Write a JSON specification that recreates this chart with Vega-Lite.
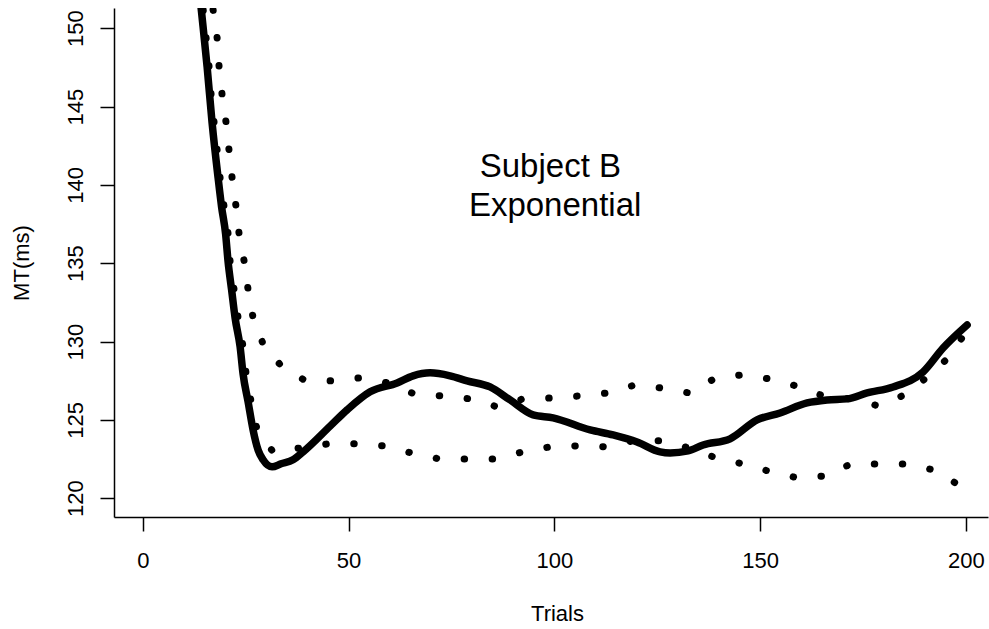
{
  "$schema": "https://vega.github.io/schema/vega-lite/v6.json",
  "width": 874,
  "height": 509,
  "autosize": {"type": "none"},
  "padding": {"left": 114, "top": 8, "right": 1, "bottom": 112},
  "background": "white",
  "config": {
    "view": {"stroke": null},
    "font": "Liberation Sans",
    "axis": {
      "grid": false,
      "domainColor": "black",
      "domainWidth": 1.5,
      "tickColor": "black",
      "tickWidth": 1.5,
      "tickSize": 14,
      "labelFontSize": 22,
      "labelColor": "black",
      "labelFlush": false,
      "labelOverlap": false,
      "titleFontSize": 22,
      "titleFontWeight": "normal",
      "titleColor": "black"
    }
  },
  "datasets": {
    "fit": [
      {"x": 12, "y": 156.9}, {"x": 14.17, "y": 151.3}, {"x": 15.63, "y": 147.53}, {"x": 16.84, "y": 143.96},
      {"x": 18.3, "y": 140.45}, {"x": 19.15, "y": 138.59}, {"x": 20.12, "y": 136.87}, {"x": 20.73, "y": 135.08},
      {"x": 21.58, "y": 133.3}, {"x": 22.43, "y": 131.51}, {"x": 23.65, "y": 129.66}, {"x": 24.37, "y": 127.93},
      {"x": 25.59, "y": 126.15}, {"x": 26.8, "y": 124.36}, {"x": 28.02, "y": 123.08}, {"x": 29.23, "y": 122.45},
      {"x": 31.42, "y": 122.0}, {"x": 33.6, "y": 122.2}, {"x": 36.5, "y": 122.45}, {"x": 38.96, "y": 122.96},
      {"x": 45.52, "y": 124.6}, {"x": 49.65, "y": 125.64}, {"x": 55.24, "y": 126.79}, {"x": 61.8, "y": 127.36},
      {"x": 65.69, "y": 127.81}, {"x": 69.82, "y": 128.0}, {"x": 74.68, "y": 127.81}, {"x": 78.81, "y": 127.49},
      {"x": 84.4, "y": 127.1}, {"x": 89.26, "y": 126.27}, {"x": 94.85, "y": 125.32}, {"x": 99.71, "y": 125.13},
      {"x": 108.7, "y": 124.36}, {"x": 114.29, "y": 124.04}, {"x": 120.12, "y": 123.59}, {"x": 125.71, "y": 122.96},
      {"x": 128.14, "y": 122.89}, {"x": 132.51, "y": 123.02}, {"x": 136.16, "y": 123.4}, {"x": 142.72, "y": 123.79},
      {"x": 149.28, "y": 125.0}, {"x": 154.87, "y": 125.44}, {"x": 161.43, "y": 126.08}, {"x": 166.29, "y": 126.27},
      {"x": 171.15, "y": 126.34}, {"x": 176.01, "y": 126.72}, {"x": 182.33, "y": 127.1}, {"x": 189.62, "y": 128.06},
      {"x": 194.48, "y": 129.59}, {"x": 200.32, "y": 131.06}
    ],
    "upper": [
      {"x": 16.11, "y": 152.94}, {"x": 17.08, "y": 151.17}, {"x": 18.06, "y": 149.38}, {"x": 18.54, "y": 147.53},
      {"x": 19.27, "y": 145.74}, {"x": 20.24, "y": 143.96}, {"x": 20.97, "y": 142.17}, {"x": 21.7, "y": 140.45},
      {"x": 22.67, "y": 138.59}, {"x": 23.4, "y": 136.87}, {"x": 24.62, "y": 135.14}, {"x": 25.59, "y": 133.3},
      {"x": 26.8, "y": 131.51}, {"x": 29.23, "y": 129.85}, {"x": 33.61, "y": 128.45}, {"x": 39.2, "y": 127.55},
      {"x": 45.9, "y": 127.49}, {"x": 52.8, "y": 127.68}, {"x": 59.61, "y": 127.36}, {"x": 65.93, "y": 126.66},
      {"x": 72.73, "y": 126.53}, {"x": 79.54, "y": 126.34}, {"x": 86.1, "y": 125.83}, {"x": 92.42, "y": 126.34},
      {"x": 99.47, "y": 126.4}, {"x": 106.27, "y": 126.53}, {"x": 113.08, "y": 126.72}, {"x": 119.64, "y": 127.23},
      {"x": 125.95, "y": 127.04}, {"x": 132.76, "y": 126.72}, {"x": 138.83, "y": 127.62}, {"x": 145.39, "y": 127.87},
      {"x": 152.2, "y": 127.62}, {"x": 158.76, "y": 127.17}, {"x": 165.32, "y": 126.53}, {"x": 171.88, "y": 126.34},
      {"x": 178.69, "y": 125.9}, {"x": 184.52, "y": 126.53}, {"x": 190.11, "y": 127.62}, {"x": 195.21, "y": 128.83},
      {"x": 199.1, "y": 130.24}
    ],
    "lower": [
      {"x": 13.97, "y": 152.94}, {"x": 15.38, "y": 149.38}, {"x": 16.11, "y": 147.53}, {"x": 16.6, "y": 145.74},
      {"x": 17.33, "y": 143.96}, {"x": 18.06, "y": 142.23}, {"x": 18.78, "y": 140.45}, {"x": 19.76, "y": 138.59},
      {"x": 20.73, "y": 136.87}, {"x": 21.22, "y": 135.08}, {"x": 22.19, "y": 133.3}, {"x": 23.16, "y": 131.51},
      {"x": 24.37, "y": 129.66}, {"x": 25.1, "y": 127.93}, {"x": 26.32, "y": 126.15}, {"x": 27.78, "y": 124.36},
      {"x": 31.66, "y": 122.96}, {"x": 38.47, "y": 123.21}, {"x": 45.03, "y": 123.47}, {"x": 51.83, "y": 123.47},
      {"x": 58.64, "y": 123.34}, {"x": 65.2, "y": 122.89}, {"x": 72.0, "y": 122.51}, {"x": 78.81, "y": 122.51},
      {"x": 85.61, "y": 122.51}, {"x": 92.42, "y": 122.96}, {"x": 98.98, "y": 123.28}, {"x": 105.78, "y": 123.34},
      {"x": 112.59, "y": 123.28}, {"x": 119.15, "y": 123.66}, {"x": 125.95, "y": 123.66}, {"x": 132.76, "y": 123.21},
      {"x": 139.32, "y": 122.57}, {"x": 145.88, "y": 122.19}, {"x": 152.68, "y": 121.68}, {"x": 159.0, "y": 121.3},
      {"x": 165.81, "y": 121.42}, {"x": 172.13, "y": 122.19}, {"x": 178.93, "y": 122.19}, {"x": 185.74, "y": 122.19},
      {"x": 192.05, "y": 121.81}, {"x": 197.88, "y": 120.91}
    ],
    "notes": [
      {"label": "Subject B", "x": 99.05, "y": 140.53},
      {"label": "Exponential", "x": 100.2, "y": 138.02}
    ]
  },
  "encoding": {
    "x": {
      "field": "x",
      "type": "quantitative",
      "scale": {"domain": [-7, 205.4], "nice": false, "zero": false},
      "axis": {
        "title": "Trials",
        "values": [0, 50, 100, 150, 200],
        "format": "d",
        "labelPadding": 36,
        "labelBaseline": "alphabetic",
        "titleX": 443,
        "titleY": 103,
        "titleBaseline": "alphabetic",
        "titleAlign": "center"
      }
    },
    "y": {
      "field": "y",
      "type": "quantitative",
      "scale": {"domain": [118.8, 151.29], "nice": false, "zero": false},
      "axis": {
        "title": "MT(ms)",
        "values": [120, 125, 130, 135, 140, 145, 150],
        "format": "d",
        "labelAngle": 270,
        "labelAlign": "center",
        "labelBaseline": "alphabetic",
        "labelPadding": 18,
        "titleAngle": 270,
        "titleX": -86,
        "titleY": 254.5,
        "titleAlign": "center",
        "titleBaseline": "alphabetic"
      }
    }
  },
  "layer": [
    {
      "data": {"name": "upper"},
      "mark": {"type": "line", "color": "black", "strokeWidth": 7, "strokeDash": [0.5, 27.5], "strokeCap": "round", "clip": true}
    },
    {
      "data": {"name": "lower"},
      "mark": {"type": "line", "color": "black", "strokeWidth": 7, "strokeDash": [0.5, 27.5], "strokeCap": "round", "clip": true}
    },
    {
      "data": {"name": "fit"},
      "mark": {"type": "line", "color": "black", "strokeWidth": 7.5, "strokeCap": "round", "strokeJoin": "round", "interpolate": "monotone", "clip": true}
    },
    {
      "data": {"name": "notes"},
      "mark": {"type": "text", "fontSize": 33, "align": "center", "baseline": "alphabetic", "color": "black"},
      "encoding": {
        "text": {"field": "label", "type": "nominal"}
      }
    }
  ]
}
